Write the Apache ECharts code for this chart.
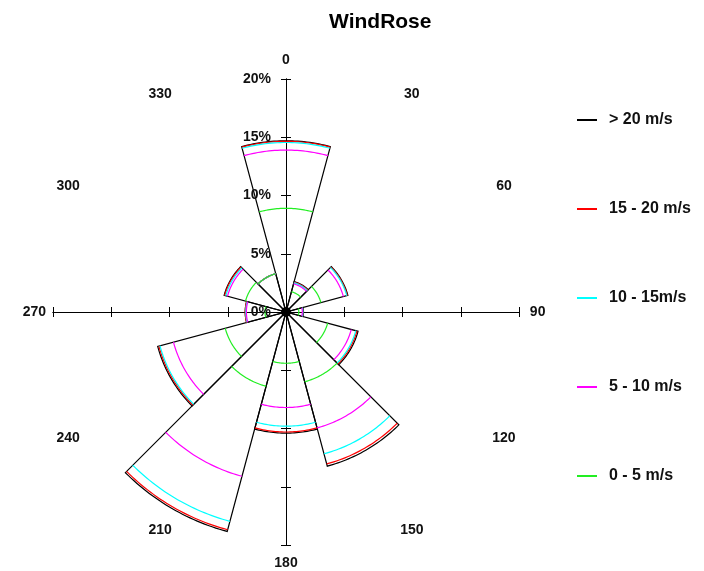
<!DOCTYPE html>
<html>
<head>
<meta charset="utf-8">
<script src="https://cdn.jsdelivr.net/npm/echarts@6/dist/echarts.min.js"></script>
<style>
  html, body { margin: 0; padding: 0; background: #fff; }
  #chart { width: 704px; height: 571px; }
</style>
</head>
<body>
<div id="chart"></div>
<script>
// wind directions (sector centres, degrees clockwise from north)
var directions = [0, 30, 60, 90, 120, 150, 180, 210, 240, 270, 300, 330];
var dirLabels = ['0', '30', '60', '90', '120', '150', '180', '210', '240', '270', '300', '330'];
var sectorWidth = 30;

// frequency (%) of each speed class per direction
var speed0to5   = [8.9, 1.8, 3.1, 1.1, 3.7, 6.2, 4.4, 6.6, 5.4, 1.8, 3.6, 3.4];
var speed5to10  = [5.0, 0.7, 2.0, 0.3, 2.1, 4.1, 3.8, 8.0, 4.6, 1.6, 1.6, 0];
var speed10to15 = [0.65, 0.1, 0.3, 0.05, 0.4, 2.3, 1.6, 4.0, 1.2, 0.05, 0.15, 0];
var speed15to20 = [0.1, 0.05, 0.05, 0, 0.1, 0.9, 0.5, 0.75, 0.1, 0.05, 0.1, 0];
var speedOver20 = [0.05, 0.05, 0.05, 0.05, 0.1, 0.2, 0.1, 0.15, 0.1, 0, 0.05, 0];

var classNames  = ['0 - 5 m/s', '5 - 10 m/s', '10 - 15m/s', '15 - 20 m/s', '> 20 m/s'];
var classColors = ['#22ee22', '#ff00ff', '#00ffff', '#ff0000', '#000000'];
var classData = [speed0to5, speed5to10, speed10to15, speed15to20, speedOver20];

// percent ticks of the radial axis
var radialMax = 20;
var radialStep = 5;
var percentTicks = [0, 5, 10, 15, 20];

// cumulative radius of each class
var cumulative = [];
classData.forEach(function (arr, k) {
  cumulative.push(arr.map(function (v, i) {
    return (k > 0 ? cumulative[k - 1][i] : 0) + v;
  }));
});

var FONT = 'Liberation Sans, Arial, sans-serif';

function polarPoint(api, r, deg) {
  var a = deg * Math.PI / 180;
  return api.coord([r * Math.sin(a), r * Math.cos(a)]);
}

function arcPoints(api, r, dir) {
  var pts = [];
  for (var d = dir - sectorWidth / 2; d <= dir + sectorWidth / 2 + 0.001; d += 1) {
    pts.push(polarPoint(api, r, d));
  }
  return pts;
}

var series = [];

// outer outline of every sector (> 20 m/s = total)
series.push({
  name: classNames[4],
  type: 'custom',
  coordinateSystem: 'cartesian2d',
  itemStyle: { color: classColors[4] },
  silent: true,
  data: directions.map(function (d, i) { return [d, cumulative[4][i]]; }),
  renderItem: function (params, api) {
    var dir = api.value(0), r = api.value(1);
    var center = api.coord([0, 0]);
    var pts = [center].concat(arcPoints(api, r, dir));
    var children = [{
      type: 'polygon',
      shape: { points: pts },
      style: { fill: 'none', stroke: '#000', lineWidth: 1.2 }
    }];
    if (params.dataIndex === 0) {
      children.push({
        type: 'circle',
        shape: { cx: center[0], cy: center[1], r: 5 },
        style: { fill: '#000' }
      });
    }
    return { type: 'group', children: children };
  }
});

// coloured arcs for the other classes, drawn from outer to inner
[3, 2, 1, 0].forEach(function (k) {
  series.push({
    name: classNames[k],
    type: 'custom',
    coordinateSystem: 'cartesian2d',
    itemStyle: { color: classColors[k] },
    silent: true,
    data: directions.map(function (d, i) { return [d, cumulative[k][i]]; }),
    renderItem: function (params, api) {
      var dir = api.value(0), r = api.value(1);
      if (!(r > 0)) return null;
      return {
        type: 'polyline',
        shape: { points: arcPoints(api, r, dir) },
        style: { fill: null, stroke: classColors[k], lineWidth: 1.2 }
      };
    }
  });
});

// direction labels around the rose
series.push({
  type: 'custom',
  coordinateSystem: 'cartesian2d',
  silent: true,
  data: directions.map(function (d, i) { return [d, i]; }),
  renderItem: function (params, api) {
    var p = polarPoint(api, 21.6, api.value(0));
    return {
      type: 'text',
      x: p[0],
      y: p[1],
      style: {
        text: dirLabels[api.value(1)],
        fill: '#111',
        font: 'bold 14px ' + FONT,
        textAlign: 'center',
        textVerticalAlign: 'middle'
      }
    };
  }
});

// percent labels beside the upper vertical axis
series.push({
  type: 'custom',
  coordinateSystem: 'cartesian2d',
  silent: true,
  data: percentTicks.map(function (v) { return [0, v]; }),
  renderItem: function (params, api) {
    var p = api.coord([api.value(0), api.value(1)]);
    return {
      type: 'text',
      x: p[0] - 15,
      y: p[1],
      style: {
        text: api.value(1) + '%',
        fill: '#111',
        font: 'bold 14px ' + FONT,
        textAlign: 'right',
        textVerticalAlign: 'middle'
      }
    };
  }
});

function valueAxis(gridIndex, inside) {
  return {
    type: 'value',
    gridIndex: gridIndex,
    min: -radialMax,
    max: radialMax,
    interval: radialStep,
    axisLine: { onZero: true, lineStyle: { color: '#000', width: 1 } },
    axisTick: { inside: inside, length: 5, lineStyle: { color: '#000' } },
    splitLine: { show: false },
    axisLabel: { show: false }
  };
}

var gridBox = { left: 53, top: 79, width: 466, height: 466 };

var option = {
  animation: false,
  backgroundColor: '#fff',
  title: {
    text: 'WindRose',
    left: 324,
    top: 7,
    textStyle: { fontFamily: FONT, fontWeight: 'bold', fontSize: 21, color: '#000' }
  },
  legend: {
    orient: 'vertical',
    left: 572,
    top: 107,
    itemGap: 73,
    itemWidth: 20,
    itemHeight: 2,
    icon: 'rect',
    data: ['> 20 m/s', '15 - 20 m/s', '10 - 15m/s', '5 - 10 m/s', '0 - 5 m/s'],
    textStyle: { fontFamily: FONT, fontWeight: 'bold', fontSize: 16, color: '#111', padding: [0, 0, 0, 7] }
  },
  grid: [gridBox, gridBox],
  xAxis: [valueAxis(0, false), valueAxis(1, true)],
  yAxis: [valueAxis(0, false), valueAxis(1, true)],
  series: series
};

var chart = echarts.init(document.getElementById('chart'), null, { renderer: 'canvas' });
chart.setOption(option);
</script>
</body>
</html>
